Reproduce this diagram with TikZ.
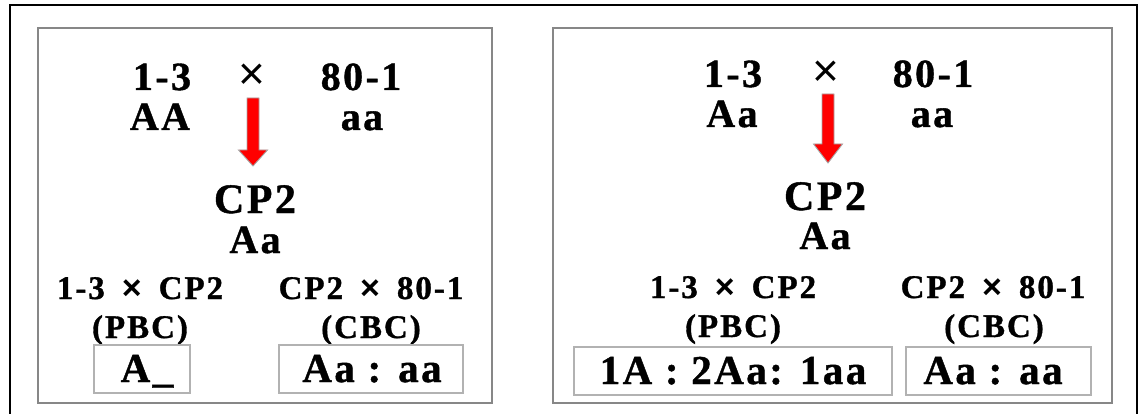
\documentclass[tikz,border=0pt]{standalone}
\usepackage{fontspec}
\setmainfont{Liberation Serif}[LetterSpace=6, BoldFeatures={FakeBold=1}]
\newfontfamily\crossfont{Liberation Sans}
\newcommand{\tcross}{{\crossfont\mdseries\char"00D7}}
\newcommand{\bcross}{{\crossfont\bfseries\fontsize{34}{34}\selectfont\char"00D7}}
\begin{document}
\begin{tikzpicture}[x=1pt,y=-1pt]
\tikzset{
  big/.style={inner sep=0pt, anchor=base, font=\bfseries\fontsize{40}{40}\selectfont},
  mid/.style={inner sep=0pt, anchor=base, font=\bfseries\fontsize{40}{40}\selectfont},
  cp/.style={inner sep=0pt, anchor=base, font=\bfseries\fontsize{42}{42}\selectfont},
  small/.style={inner sep=0pt, anchor=base, font=\bfseries\fontsize{33}{33}\selectfont},
  res/.style={inner sep=0pt, anchor=base, font=\bfseries\fontsize{41}{41}\selectfont},
  crossmark/.style={inner sep=0pt, anchor=center, font=\fontsize{46}{46}\selectfont},
  panel/.style={draw=black!47, line width=1.6pt},
  resbox/.style={draw=black!30, line width=1.6pt},
  blockarrow/.style={fill=red, draw=black!35, line width=0.9pt, line join=miter},
}
\useasboundingbox (0,0) rectangle (1139,414);
% outer frame (bottom edge lies below the page)
\begin{scope}
\clip (0,0) rectangle (1139,414);
\draw[line width=1.8pt] (10,5) rectangle (1137,440);
\end{scope}
% two panels
\draw[panel] (38,28) rectangle (492,403);
\draw[panel] (553,28) rectangle (1112,403);

% ---------- left panel ----------
\node[big] (lp1) at (162,90) {1-3};
\node[crossmark] (lx) at (252,77) {\tcross};
\node[big] (lp2) at (361,90) {80-1};
\node[big] (lg1) at (160,130) {AA};
\node[big] (lg2) at (362,130) {aa};
\draw[blockarrow, shift={(253,98)}] (-6,0) -- (6,0) -- (6,52) -- (14.5,52) -- (0,68) -- (-14.5,52) -- (-6,52) -- cycle;
\node[cp] (lf1) at (255,213) {CP2};
\node[mid] (lf1g) at (255,253) {Aa};
\node[small] (lbc1) at (140,299) {1-3\hspace{17pt}\bcross\hspace{17pt}CP2};
\node[small] (lbc2) at (371,299) {CP2\hspace{17pt}\bcross\hspace{17pt}80-1};
\node[small] (lbn1) at (140,338) {(PBC)};
\node[small] (lbn2) at (371,338) {(CBC)};
\node[resbox, minimum width=96pt, minimum height=48pt, inner sep=0pt] (lr1b) at (142,369) {};
\node[resbox, minimum width=184pt, minimum height=48pt, inner sep=0pt] (lr2b) at (371,369) {};
\node[res] (lr1) at (147,382) {A\_};
\node[res] (lr2) at (372,382) {Aa : aa};

% ---------- right panel ----------
\node[big] (rp1) at (733,87) {1-3};
\node[crossmark] (rx) at (826,74) {\tcross};
\node[big] (rp2) at (933,87) {80-1};
\node[big] (rg1) at (732,127) {Aa};
\node[big] (rg2) at (932,127) {aa};
\draw[blockarrow, shift={(828,94)}] (-6,0) -- (6,0) -- (6,50) -- (14.5,50) -- (0,69) -- (-14.5,50) -- (-6,50) -- cycle;
\node[cp] (rf1) at (825,210) {CP2};
\node[mid] (rf1g) at (825,249) {Aa};
\node[small] (rbc1) at (733,298) {1-3\hspace{17pt}\bcross\hspace{17pt}CP2};
\node[small] (rbc2) at (993,298) {CP2\hspace{17pt}\bcross\hspace{17pt}80-1};
\node[small] (rbn1) at (733,337) {(PBC)};
\node[small] (rbn2) at (994,337) {(CBC)};
\node[resbox, minimum width=318pt, minimum height=48pt, inner sep=0pt] (rr1b) at (733,371) {};
\node[resbox, minimum width=185pt, minimum height=48pt, inner sep=0pt] (rr2b) at (998.5,371) {};
\node[res] (rr1) at (733,384) {1A : 2Aa: 1aa};
\node[res] (rr2) at (993,384) {Aa : aa};
\end{tikzpicture}
\end{document}
